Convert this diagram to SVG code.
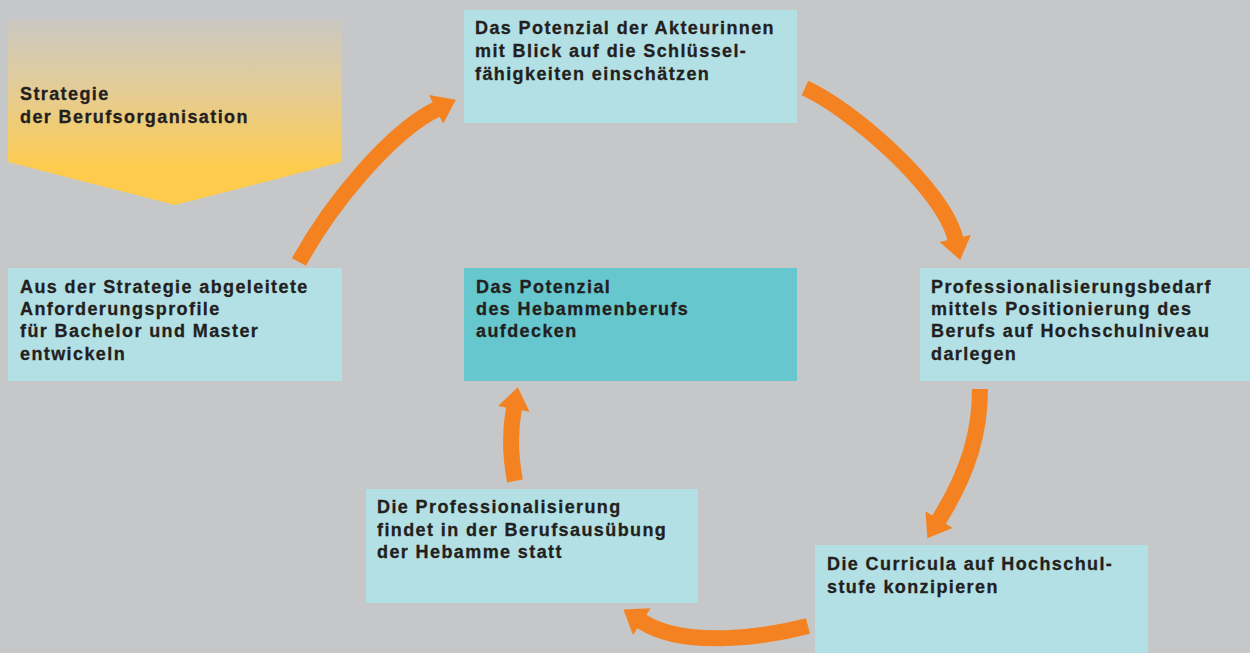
<svg xmlns="http://www.w3.org/2000/svg" width="1250" height="653" viewBox="0 0 1250 653">
<defs>
<linearGradient id="gold" x1="0" y1="20" x2="0" y2="170" gradientUnits="userSpaceOnUse">
<stop offset="0" stop-color="#cbc8c2"/>
<stop offset="0.45" stop-color="#e3cc98"/>
<stop offset="1" stop-color="#fecb4c"/>
</linearGradient>
<marker id="head" markerUnits="userSpaceOnUse" viewBox="-2 -17 24 34" markerWidth="24" markerHeight="34" refX="0" refY="0" orient="auto" overflow="visible">
<path d="M-1,-16 L21,0 L-1,16 Z" fill="#f58220"/>
</marker>
<style>
.bg{fill:#c6c7c9}
.box{fill:#b3e0e4}
.core{fill:#66c7cf}
.t{font-family:"Liberation Sans",Arial,Helvetica,sans-serif;font-weight:bold;font-size:18px;letter-spacing:1.4px;fill:#231f20;stroke:#231f20;stroke-width:0.3px}
.arr{fill:none;stroke:#f58220;stroke-width:16;stroke-linecap:butt;marker-end:url(#head)}
</style>
</defs>
<rect class="bg" x="0" y="0" width="1250" height="653"/>
<g id="strategie">
<polygon points="8,20 342,20 342,162 175,205 8,162" fill="url(#gold)"/>
<text class="t"><tspan x="20" y="100">Strategie</tspan><tspan x="20" y="123">der Berufsorganisation</tspan></text>
</g>
<g id="connectors">
<path class="arr" d="M299,262 C330,205 390,132 437,109"/>
<path class="arr" d="M805,88 C850,108 944,189 955.5,239.5"/>
<path class="arr" d="M980,389 C980,430 970,470 938.5,520.5"/>
<path class="arr" d="M808,626 C770,636 685,650 641,621"/>
<path class="arr" d="M515,481 C510,455 510,430 514,408"/>
</g>
<g id="node-potenzial-akteurinnen">
<rect class="box" x="464" y="10" width="333" height="113"/>
<text class="t"><tspan x="475" y="34">Das Potenzial der Akteurinnen</tspan><tspan x="475" y="57">mit Blick auf die Schlüssel-</tspan><tspan x="475" y="80">fähigkeiten einschätzen</tspan></text>
</g>
<g id="node-anforderungsprofile">
<rect class="box" x="8" y="268" width="334" height="113"/>
<text class="t"><tspan x="20" y="293">Aus der Strategie abgeleitete</tspan><tspan x="20" y="315">Anforderungsprofile</tspan><tspan x="20" y="337">für Bachelor und Master</tspan><tspan x="20" y="360">entwickeln</tspan></text>
</g>
<g id="node-hebammenberuf">
<rect class="core" x="464" y="268" width="333" height="113"/>
<text class="t"><tspan x="476" y="293">Das Potenzial</tspan><tspan x="476" y="315">des Hebammenberufs</tspan><tspan x="476" y="337">aufdecken</tspan></text>
</g>
<g id="node-professionalisierungsbedarf">
<rect class="box" x="920" y="268" width="330" height="113"/>
<text class="t"><tspan x="931" y="293">Professionalisierungsbedarf</tspan><tspan x="931" y="315">mittels Positionierung des</tspan><tspan x="931" y="337">Berufs auf Hochschulniveau</tspan><tspan x="931" y="360">darlegen</tspan></text>
</g>
<g id="node-berufsausuebung">
<rect class="box" x="366" y="489" width="332" height="114"/>
<text class="t"><tspan x="377" y="513">Die Professionalisierung</tspan><tspan x="377" y="536">findet in der Berufsausübung</tspan><tspan x="377" y="558">der Hebamme statt</tspan></text>
</g>
<g id="node-curricula">
<rect class="box" x="815" y="545" width="333" height="108"/>
<text class="t"><tspan x="827" y="570">Die Curricula auf Hochschul-</tspan><tspan x="827" y="593">stufe konzipieren</tspan></text>
</g>
</svg>
